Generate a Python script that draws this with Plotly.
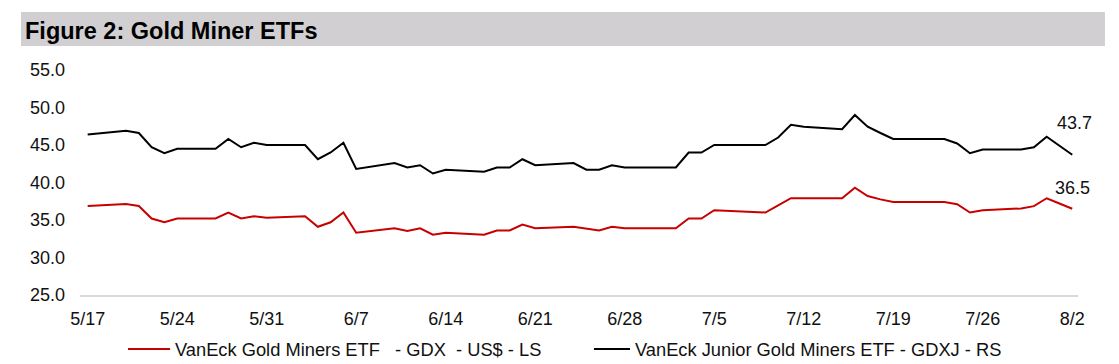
import plotly.graph_objects as go

dates = [
    "2024-05-17", "2024-05-20", "2024-05-21", "2024-05-22", "2024-05-23", "2024-05-24",
    "2024-05-27", "2024-05-28", "2024-05-29", "2024-05-30", "2024-05-31",
    "2024-06-03", "2024-06-04", "2024-06-05", "2024-06-06", "2024-06-07",
    "2024-06-10", "2024-06-11", "2024-06-12", "2024-06-13", "2024-06-14",
    "2024-06-17", "2024-06-18", "2024-06-19", "2024-06-20", "2024-06-21",
    "2024-06-24", "2024-06-25", "2024-06-26", "2024-06-27", "2024-06-28",
    "2024-07-01", "2024-07-02", "2024-07-03", "2024-07-04", "2024-07-05",
    "2024-07-08", "2024-07-09", "2024-07-10", "2024-07-11", "2024-07-12",
    "2024-07-15", "2024-07-16", "2024-07-17", "2024-07-18", "2024-07-19",
    "2024-07-22", "2024-07-23", "2024-07-24", "2024-07-25", "2024-07-26",
    "2024-07-29", "2024-07-30", "2024-07-31", "2024-08-01", "2024-08-02",
]

gdx = [
    36.87, 37.13, 36.87, 35.2, 34.7, 35.2,
    35.2, 36.0, 35.2, 35.5, 35.3,
    35.5, 34.1, 34.7, 36.0, 33.3,
    33.9, 33.55, 33.9, 33.05, 33.3,
    33.05, 33.6, 33.6, 34.4, 33.9,
    34.1, 33.85, 33.6, 34.1, 33.9,
    33.9, 33.9, 35.2, 35.2, 36.3,
    36.05, 36.0, 36.95, 37.9, 37.9,
    37.9, 39.3, 38.2, 37.75, 37.4,
    37.4, 37.4, 37.1, 36.0, 36.3,
    36.55, 36.85, 37.9, 37.2, 36.5,
]

gdxj = [
    46.4, 46.9, 46.6, 44.7, 43.9, 44.5,
    44.5, 45.8, 44.7, 45.3, 45.0,
    45.0, 43.1, 44.0, 45.3, 41.8,
    42.6, 42.0, 42.3, 41.2, 41.7,
    41.45, 42.0, 42.0, 43.1, 42.3,
    42.6, 41.7, 41.7, 42.3, 42.0,
    42.0, 42.0, 44.0, 44.0, 45.0,
    45.0, 45.0, 46.0, 47.7, 47.45,
    47.1, 49.0, 47.45, 46.6, 45.8,
    45.8, 45.8, 45.2, 43.9, 44.4,
    44.4, 44.7, 46.1, 44.9, 43.7,
]

series_names = [
    "VanEck Gold Miners ETF   - GDX  - US$ - LS",
    "VanEck Junior Gold Miners ETF - GDXJ - RS",
]
title_text = "Figure 2: Gold Miner ETFs"

FONT = "Liberation Sans, Arial, sans-serif"
RED = "#c80000"
BLACK = "#000000"
colors = [RED, BLACK]

fig = go.Figure()
fig.add_trace(go.Scatter(x=dates, y=gdx, mode="lines", name=series_names[0],
                         line=dict(color=RED, width=2), showlegend=False))
fig.add_trace(go.Scatter(x=dates, y=gdxj, mode="lines", name=series_names[1],
                         line=dict(color=BLACK, width=2), showlegend=False))

# end labels
fig.add_annotation(x=dates[-1], y=gdxj[-1], text=f"{gdxj[-1]:.1f}", showarrow=False,
                   yshift=32, xshift=2, font=dict(family=FONT, size=18, color="#111"))
fig.add_annotation(x=dates[-1], y=gdx[-1], text=f"{gdx[-1]:.1f}", showarrow=False,
                   yshift=21, xshift=0, font=dict(family=FONT, size=18, color="#111"))

# title band
fig.add_shape(type="rect", xref="paper", yref="paper",
              x0=-0.0591, x1=1.027, y0=1.1067, y1=1.2578,
              fillcolor="#d1cfd1", line=dict(width=0), layer="below")
fig.add_annotation(xref="paper", yref="paper", x=-0.0571, y=1.172, xanchor="left",
                   yanchor="middle", text=f"<b>{title_text}</b>", showarrow=False,
                   font=dict(family=FONT, size=23.5, color="#000"))

# legend (drawn manually for exact sample length / spacing)
leg_y = -0.24
leg_pos = [(0.0481, 0.0902, 0.0932), (0.515, 0.5511, 0.5541)]
for (lx0, lx1, tx), name, col in zip(leg_pos, series_names, colors):
    fig.add_shape(type="line", xref="paper", yref="paper", x0=lx0, x1=lx1,
                  y0=leg_y, y1=leg_y, line=dict(color=col, width=2))
    fig.add_annotation(xref="paper", yref="paper", x=tx, y=leg_y, xanchor="left",
                       yanchor="middle", text=name.replace("  ", "&nbsp; "),
                       showarrow=False, font=dict(family=FONT, size=18.3, color="#111"))

fig.update_layout(
    width=1111, height=356,
    margin=dict(l=72, r=41, t=62, b=69, autoexpand=False),
    paper_bgcolor="white", plot_bgcolor="white",
    font=dict(family=FONT, size=18, color="#111"),
    showlegend=False,
    xaxis=dict(
        type="date",
        range=["2024-05-16 09:36", "2024-08-02 10:48"],
        tick0="2024-05-17", dtick=7 * 24 * 3600 * 1000,
        tickformat="%-m/%-d",
        showgrid=False, zeroline=False,
        showline=True, linecolor="#d9d9d9", linewidth=2,
        ticks="", ticklabelstandoff=6, automargin=False,
        tickfont=dict(family=FONT, size=18, color="#111"),
    ),
    yaxis=dict(
        range=[25, 55], dtick=5, tickformat=".1f",
        showgrid=False, zeroline=False, showline=False,
        ticks="", ticklabelstandoff=14, automargin=False,
        tickfont=dict(family=FONT, size=18, color="#111"),
    ),
)

fig.write_html("out.html")
